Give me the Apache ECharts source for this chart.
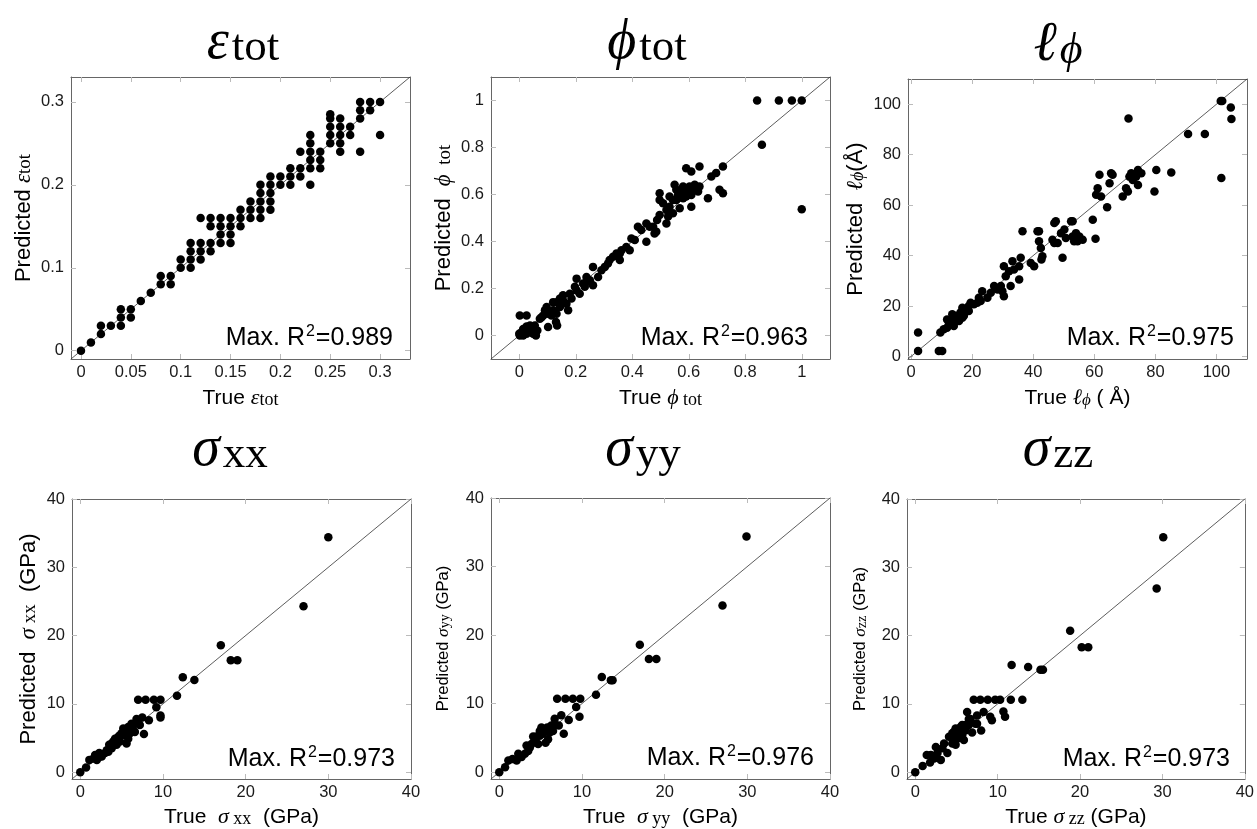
<!DOCTYPE html>
<html>
<head>
<meta charset="utf-8">
<script src="https://cdn.jsdelivr.net/npm/echarts@6/dist/echarts.min.js"></script>
<style>
html, body { margin: 0; padding: 0; background: #fff; }
#main { width: 1257px; height: 829px; }
</style>
</head>
<body>
<div id="main"></div>
<script>
// ---- data: [true, predicted] pairs ----
var epsData = [
    [0, 0], [0.01, 0.01], [0.02, 0.03], [0.02, 0.02], [0.03, 0.03],
    [0.04, 0.05], [0.04, 0.04], [0.04, 0.03], [0.05, 0.05], [0.05, 0.04],
    [0.06, 0.06], [0.07, 0.07], [0.08, 0.09], [0.08, 0.08], [0.09, 0.09], [0.09, 0.08],
    [0.10, 0.11], [0.10, 0.10],
    [0.11, 0.13], [0.11, 0.12], [0.11, 0.11], [0.11, 0.10],
    [0.12, 0.16], [0.12, 0.13], [0.12, 0.12], [0.12, 0.11],
    [0.13, 0.16], [0.13, 0.15], [0.13, 0.13], [0.13, 0.12],
    [0.14, 0.16], [0.14, 0.15], [0.14, 0.14], [0.14, 0.13],
    [0.15, 0.16], [0.15, 0.15], [0.15, 0.14], [0.15, 0.13],
    [0.16, 0.17], [0.16, 0.16], [0.16, 0.15],
    [0.17, 0.18], [0.17, 0.17], [0.17, 0.16],
    [0.18, 0.20], [0.18, 0.19], [0.18, 0.18], [0.18, 0.17], [0.18, 0.16],
    [0.19, 0.21], [0.19, 0.20], [0.19, 0.19], [0.19, 0.18], [0.19, 0.17],
    [0.20, 0.21], [0.20, 0.20],
    [0.21, 0.22], [0.21, 0.21], [0.21, 0.20],
    [0.22, 0.24], [0.22, 0.22], [0.22, 0.21],
    [0.23, 0.26], [0.23, 0.25], [0.23, 0.24], [0.23, 0.23], [0.23, 0.22], [0.23, 0.20],
    [0.24, 0.24], [0.24, 0.23], [0.24, 0.22],
    [0.25, 0.285], [0.25, 0.28], [0.25, 0.27], [0.25, 0.26], [0.25, 0.25],
    [0.26, 0.28], [0.26, 0.27], [0.26, 0.26], [0.26, 0.25], [0.26, 0.24],
    [0.27, 0.27], [0.27, 0.26],
    [0.28, 0.30], [0.28, 0.29], [0.28, 0.28], [0.28, 0.24],
    [0.29, 0.30], [0.29, 0.29],
    [0.30, 0.30], [0.30, 0.26]
];

var phiData = [
    [0, 0.007], [0.002, 0], [0.008, 0.014], [0.014, 0], [0.026, 0.007], [0.038, 0.021],
    [0.049, 0.007], [0.059, 0], [0.064, 0.021], [0.055, 0.043], [0.026, 0.038], [0.002, 0.085],
    [0.026, 0.085], [0.038, 0.043], [0.014, 0.028], [0.047, 0.028],
    [0.079, 0.078], [0.091, 0.107], [0.102, 0.093], [0.12, 0.107], [0.132, 0.093], [0.13, 0.057],
    [0.102, 0.036], [0.134, 0.043], [0.085, 0.085], [0.114, 0.085],
    [0.132, 0.142], [0.144, 0.157], [0.155, 0.171], [0.167, 0.135], [0.173, 0.107], [0.144, 0.121],
    [0.179, 0.178], [0.197, 0.207], [0.203, 0.242], [0.214, 0.178], [0.226, 0.221], [0.232, 0.207],
    [0.238, 0.249], [0.25, 0.235], [0.261, 0.292], [0.261, 0.214], [0.279, 0.249], [0.291, 0.278],
    [0.314, 0.306], [0.332, 0.335], [0.344, 0.349], [0.356, 0.321], [0.362, 0.363], [0.379, 0.377],
    [0.391, 0.363], [0.397, 0.413], [0.409, 0.406], [0.42, 0.463], [0.432, 0.449], [0.45, 0.399],
    [0.462, 0.463], [0.479, 0.434], [0.488, 0.491],
    [0.497, 0.577], [0.509, 0.563], [0.521, 0.534], [0.527, 0.506], [0.521, 0.477], [0.532, 0.548],
    [0.544, 0.577], [0.55, 0.641], [0.556, 0.577], [0.562, 0.598], [0.568, 0.591], [0.574, 0.62],
    [0.58, 0.584], [0.585, 0.605], [0.591, 0.591], [0.597, 0.613], [0.603, 0.634], [0.609, 0.598],
    [0.615, 0.627], [0.621, 0.641], [0.633, 0.613], [0.638, 0.634],
    [0.591, 0.712], [0.609, 0.698], [0.638, 0.719], [0.668, 0.584], [0.68, 0.677], [0.697, 0.691],
    [0.721, 0.719], [0.709, 0.62], [0.721, 0.605],
    [0.609, 0.548], [0.568, 0.541], [0.544, 0.52], [0.497, 0.513], [0.485, 0.442], [0.474, 0.463],
    [0.45, 0.477], [0.497, 0.605], [0.532, 0.591], [0.58, 0.634], [0.556, 0.62],
    [0.356, 0.349], [0.32, 0.321], [0.303, 0.292], [0.203, 0.192], [0.185, 0.157], [0.155, 0.15],
    [0.12, 0.142], [0.097, 0.121], [0.073, 0.071], [0.238, 0.228],
    [0.842, 1], [0.919, 1], [0.965, 1], [1, 1], [0.859, 0.812], [1, 0.537]
];

var lphiData = [
    [2.3, 9.5], [2.3, 2.2], [9.1, 2.2], [10.2, 2.2], [9.6, 9.5],
    [10.7, 10.8], [11.8, 11.4], [12.9, 12.8], [13.5, 14.1], [14.6, 14.7], [15.1, 16.1], [16.2, 17.4],
    [16.8, 19.3], [17.9, 18.0], [18.9, 20.0], [19.5, 21.3], [20.6, 20.7], [21.7, 21.3], [22.8, 22.0],
    [12.4, 12.8], [14.0, 12.1], [15.7, 14.1], [13.5, 16.7], [11.8, 14.7], [17.3, 16.1], [22.2, 23.3],
    [18.9, 18.0], [16.8, 15.4],
    [23.3, 25.9], [25.0, 23.3], [26.1, 25.3], [27.2, 27.9], [28.3, 26.6], [29.9, 25.9], [30.4, 23.9], [29.4, 27.9],
    [30.4, 35.8], [31.0, 31.8], [32.1, 33.8], [32.6, 27.9], [33.2, 37.8], [33.7, 34.5], [35.4, 35.8],
    [35.4, 30.5], [35.9, 39.1], [36.5, 49.6],
    [39.2, 37.1], [40.3, 35.8], [41.4, 49.6], [41.9, 45.7], [42.5, 43.0], [42.7, 38.4], [43.0, 39.7], [41.9, 49.6],
    [46.9, 52.9], [47.4, 53.6], [46.3, 46.3], [46.9, 45.0], [48.0, 45.0], [49.1, 48.9], [49.6, 39.1],
    [50.2, 50.3], [50.7, 47.0],
    [52.4, 53.6], [52.9, 53.6], [52.9, 47.6], [53.4, 45.7], [54.0, 48.9], [54.5, 45.7], [55.1, 47.6], [56.2, 46.3],
    [59.5, 54.2], [60.4, 46.7], [60.6, 64.1], [61.1, 66.7], [61.7, 72.0], [62.2, 63.4], [64.2, 59.2],
    [65.0, 68.7], [65.5, 72.6], [66.0, 72.0],
    [69.3, 63.4], [70.4, 66.7], [71.0, 65.4], [71.2, 94.3], [71.5, 71.3], [72.1, 72.6], [72.6, 70.0],
    [73.7, 71.3], [74.3, 73.9], [74.3, 68.0], [75.4, 72.6],
    [79.7, 65.4], [80.3, 73.9], [85.2, 72.9], [90.7, 88.2], [96.2, 88.2], [101.4, 101.3], [101.9, 101.3],
    [101.6, 70.8], [104.7, 98.7], [104.9, 94.1]
];

var sxxData = [
    [0, 0], [0.7, 0.7], [1.1, 1.8], [1.6, 2.0], [2.0, 1.8], [2.3, 2.8], [2.6, 2.3], [3.0, 2.8], [3.2, 3.2],
    [3.5, 4.0], [3.8, 3.5], [4.0, 4.5], [4.2, 4.9], [4.4, 4.0], [4.6, 5.2], [4.8, 4.5], [5.0, 5.7],
    [5.2, 6.4], [5.4, 5.4], [5.6, 4.2], [5.7, 5.9], [5.8, 6.6], [6.0, 5.7], [6.2, 6.4], [6.4, 6.9],
    [6.6, 5.9], [6.8, 7.8], [7.0, 10.6], [7.2, 6.9], [7.5, 8.0], [7.7, 5.6], [7.9, 10.6], [8.3, 7.6],
    [8.9, 10.6], [9.2, 9.5], [9.7, 10.6], [9.7, 8.3], [9.7, 8.0], [11.7, 11.2], [12.4, 13.9], [13.8, 13.5],
    [17.0, 18.6], [18.2, 16.4], [19.0, 16.4], [27.0, 24.3], [30.0, 34.4],
    [4.4, 4.9], [4.8, 5.4], [5.4, 6.1], [6.0, 6.4], [6.4, 6.1], [5.8, 4.9], [6.2, 7.1], [6.6, 7.1],
    [7.0, 7.4], [3.4, 3.0], [3.8, 4.2], [2.4, 2.3], [1.8, 2.5]
];

var syyData = [
    [0, 0], [0.7, 0.7], [1.1, 1.7], [1.6, 1.9], [2.1, 1.7], [2.3, 2.7], [2.7, 2.2], [3.1, 2.7], [3.3, 3.9],
    [3.7, 3.6], [4.1, 5.2], [4.3, 4.7], [4.7, 4.1], [4.9, 5.3], [5.1, 6.5], [5.3, 5.6], [5.6, 4.3],
    [5.8, 6.5], [6.1, 5.8], [6.3, 6.8], [6.5, 6.0], [6.7, 7.8], [7.0, 10.7], [7.2, 6.8], [7.5, 8.3],
    [7.8, 5.6], [8.0, 10.7], [8.4, 7.6], [8.9, 10.7], [9.3, 9.5], [9.8, 10.7], [9.7, 8.1], [11.7, 11.3],
    [12.4, 13.9], [13.5, 13.4], [13.7, 13.4], [17.0, 18.6], [18.1, 16.5], [19.0, 16.5], [27.0, 24.3], [29.9, 34.4],
    [4.5, 5.2], [4.9, 6.0], [5.5, 6.0], [6.1, 6.5], [5.9, 4.8], [6.7, 7.0], [3.5, 3.1], [3.9, 4.1]
];

var szzData = [
    [0, 0], [0.9, 0.9], [1.4, 2.5], [1.8, 1.4], [1.9, 2.5], [2.3, 2.0], [2.5, 3.7], [2.7, 2.8], [3.1, 1.8],
    [3.3, 3.5], [3.5, 4.2], [3.9, 2.8], [4.1, 5.2], [4.5, 4.2], [4.7, 5.9], [4.9, 4.0], [5.1, 5.7],
    [5.5, 6.6], [5.7, 5.4], [5.9, 4.7], [6.1, 6.1], [6.3, 8.8], [6.5, 6.9], [6.7, 7.8], [6.9, 5.8],
    [7.1, 10.6], [7.3, 7.1], [7.5, 8.3], [7.9, 10.6], [8.0, 6.1], [8.3, 8.8], [8.8, 10.6], [9.1, 8.1],
    [9.3, 7.6], [9.7, 10.6], [10.3, 10.6], [10.7, 8.9], [10.9, 8.1], [11.6, 10.6], [11.7, 15.7],
    [13.0, 10.6], [13.7, 15.4], [15.2, 15.0], [15.5, 15.0], [18.8, 20.7], [20.2, 18.3], [21.0, 18.3],
    [29.3, 26.9], [30.1, 34.4],
    [4.5, 5.7], [4.9, 6.4], [5.3, 5.9], [5.7, 6.9], [6.1, 6.9], [6.5, 7.8], [7.5, 7.1], [4.7, 4.9], [5.1, 4.9]
];

// axis ranges and tick values
var epsRange = [-0.01, 0.33];
var phiRange = [-0.1, 1.1];
var lphiRange = [-1, 110];
var sigmaRange = [-1, 40];

var epsXTicks = [0, 0.05, 0.1, 0.15, 0.2, 0.25, 0.3];
var epsYTicks = [0, 0.1, 0.2, 0.3];
var phiTicks = [0, 0.2, 0.4, 0.6, 0.8, 1];
var lphiTicks = [0, 20, 40, 60, 80, 100];
var sigmaTicks = [0, 10, 20, 30, 40];

var r2Labels = ['0.989', '0.963', '0.975', '0.973', '0.976', '0.973'];

// ---- layout ----
var panels = [
    { box: [71, 77, 339, 282], data: epsData, range: epsRange, xTicks: epsXTicks, yTicks: epsYTicks,
      title: '{m|ε}{sub|tot}', titleX: 243, titleY: 71,
      xName: '{s|True }{m|ε}{sub|tot}', yName: '{s|Predicted }{m|ε}{sub|tot}', yGap: 36, ySize: 22, r2In: 17 },
    { box: [491, 77, 339, 282], data: phiData, range: phiRange, xTicks: phiTicks, yTicks: phiTicks,
      title: '{m|ϕ}{sub|tot}', titleX: 647, titleY: 71,
      xName: '{s|True }{m|ϕ}{sub| tot}', yName: '{s|Predicted  }{m|ϕ}{sub|  tot}', yGap: 36, ySize: 22, r2In: 22 },
    { box: [908, 79, 339, 280], data: lphiData, range: lphiRange, xTicks: lphiTicks, yTicks: lphiTicks,
      title: '{m|ℓ}{subm|ϕ}', titleX: 1058, titleY: 73,
      xName: '{s|True }{m|ℓ}{subm|ϕ}{s| ( Å)}', yName: '{s|Predicted  }{m|ℓ}{subm|ϕ}{s|(Å)}', yGap: 41, ySize: 22, r2In: 13 },
    { box: [72, 499, 339, 281], data: sxxData, range: sigmaRange, xTicks: sigmaTicks, yTicks: sigmaTicks,
      title: '{m|σ}{sub2|xx}', titleX: 230, titleY: 478,
      xName: '{s|True  }{m|σ}{sub| xx}{s|  (GPa)}', yName: '{s|Predicted  }{m|σ}{sub| xx}{s|  (GPa)}', yGap: 32, ySize: 22, r2In: 16 },
    { box: [491, 498, 339, 281], data: syyData, range: sigmaRange, xTicks: sigmaTicks, yTicks: sigmaTicks,
      title: '{m|σ}{sub2|yy}', titleX: 643, titleY: 478,
      xName: '{s|True  }{m|σ}{sub| yy}{s|  (GPa)}', yName: '{s|Predicted }{m|σ}{sub|yy}{s| (GPa)}', yGap: 39, ySize: 16.5, r2In: 16 },
    { box: [907, 499, 339, 281], data: szzData, range: sigmaRange, xTicks: sigmaTicks, yTicks: sigmaTicks,
      title: '{m|σ}{sub2|zz}', titleX: 1058, titleY: 478,
      xName: '{s|True }{m|σ}{sub| zz}{s| (GPa)}', yName: '{s|Predicted }{m|σ}{sub|zz}{s| (GPa)}', yGap: 38, ySize: 16.5, r2In: 16 }
];

function nameRich(size) {
    return {
        s: { fontFamily: 'Liberation Sans', fontSize: size, color: '#000' },
        m: { fontFamily: 'Liberation Serif', fontStyle: 'italic', fontSize: size + 1, color: '#000' },
        sub: { fontFamily: 'Liberation Serif', fontSize: Math.round(size * 0.85), color: '#000',
               verticalAlign: 'bottom', lineHeight: Math.round(size * 0.5) },
        subm: { fontFamily: 'Liberation Serif', fontStyle: 'italic', fontSize: Math.round(size * 0.8), color: '#000',
                verticalAlign: 'bottom', lineHeight: Math.round(size * 0.45) }
    };
}

var titleRich = {
    m: { fontFamily: 'Liberation Serif', fontStyle: 'italic', fontSize: 56, fill: '#000', padding: [0, 3, 0, 0] },
    sub: { fontFamily: 'Liberation Serif', fontSize: 45, fill: '#000', verticalAlign: 'bottom', lineHeight: 40 },
    sub2: { fontFamily: 'Liberation Serif', fontSize: 45, fill: '#000', verticalAlign: 'bottom', lineHeight: 26 },
    subm: { fontFamily: 'Liberation Serif', fontStyle: 'italic', fontSize: 44, fill: '#000', verticalAlign: 'bottom', lineHeight: 32 }
};

// superscript "2": raised with a bottom padding so it sits at cap height
var r2Rich = {
    a: { fontFamily: 'Liberation Sans', fontSize: 25, fill: '#000' },
    sup: { fontFamily: 'Liberation Sans', fontSize: 16, fill: '#000', padding: [0, 1, 12, 1] }
};

function fmt(v) {
    return String(Math.round(v * 1000) / 1000);
}

var grids = [], xAxes = [], yAxes = [], series = [], graphics = [];

panels.forEach(function (p, i) {
    var b = p.box;
    grids.push({ left: b[0], top: b[1], width: b[2], height: b[3] });

    var line = { show: true, onZero: false, lineStyle: { color: '#666', width: 1 } };
    var label = { fontFamily: 'Liberation Sans', fontSize: 16.5, color: '#1a1a1a', formatter: fmt };
    var tick = { show: true, inside: true, length: 5, lineStyle: { color: '#bbb' } };

    // bottom / top x axes
    xAxes.push({
        type: 'value', gridIndex: i, position: 'bottom', min: p.range[0], max: p.range[1],
        axisLine: line,
        axisTick: Object.assign({ customValues: p.xTicks }, tick),
        axisLabel: Object.assign({ margin: 5, customValues: p.xTicks }, label),
        splitLine: { show: false },
        name: p.xName, nameLocation: 'middle', nameGap: i < 3 ? 28 : 27,
        nameTextStyle: { rich: nameRich(21) }
    });
    xAxes.push({
        type: 'value', gridIndex: i, position: 'top', min: p.range[0], max: p.range[1],
        axisLine: line,
        axisTick: Object.assign({ customValues: p.xTicks }, tick),
        axisLabel: { show: false }, splitLine: { show: false }
    });
    // left / right y axes
    yAxes.push({
        type: 'value', gridIndex: i, position: 'left', min: p.range[0], max: p.range[1],
        axisLine: line,
        axisTick: Object.assign({ customValues: p.yTicks }, tick),
        axisLabel: Object.assign({ margin: 7, customValues: p.yTicks }, label),
        splitLine: { show: false },
        name: p.yName, nameLocation: 'middle', nameGap: p.yGap,
        nameTextStyle: { rich: nameRich(p.ySize) }
    });
    yAxes.push({
        type: 'value', gridIndex: i, position: 'right', min: p.range[0], max: p.range[1],
        axisLine: line,
        axisTick: Object.assign({ customValues: p.yTicks }, tick),
        axisLabel: { show: false }, splitLine: { show: false }
    });

    // y = x reference line, then the points
    series.push({
        type: 'line', xAxisIndex: 2 * i, yAxisIndex: 2 * i, silent: true, z: 1,
        data: [[p.range[0], p.range[0]], [p.range[1], p.range[1]]],
        symbol: 'none', lineStyle: { color: '#333', width: 0.8 }
    });
    series.push({
        type: 'scatter', xAxisIndex: 2 * i, yAxisIndex: 2 * i, z: 2,
        data: p.data, symbol: 'circle', symbolSize: 8.5,
        itemStyle: { color: '#000', opacity: 1 }
    });

    // panel title and R² note
    graphics.push({
        type: 'text', x: p.titleX, y: p.titleY,
        style: { text: p.title, rich: titleRich, align: 'center', verticalAlign: 'bottom' }
    });
    graphics.push({
        type: 'text', x: b[0] + b[2] - p.r2In, y: b[1] + b[3] - 7,
        style: { text: '{a|Max. R}{sup|2}{a|=' + r2Labels[i] + '}', rich: r2Rich, align: 'right', verticalAlign: 'bottom' }
    });
});

var myChart = echarts.init(document.getElementById('main'));
var option = {
    animation: false,
    backgroundColor: '#fff',
    grid: grids,
    xAxis: xAxes,
    yAxis: yAxes,
    series: series,
    graphic: graphics
};
myChart.setOption(option);
</script>
</body>
</html>
